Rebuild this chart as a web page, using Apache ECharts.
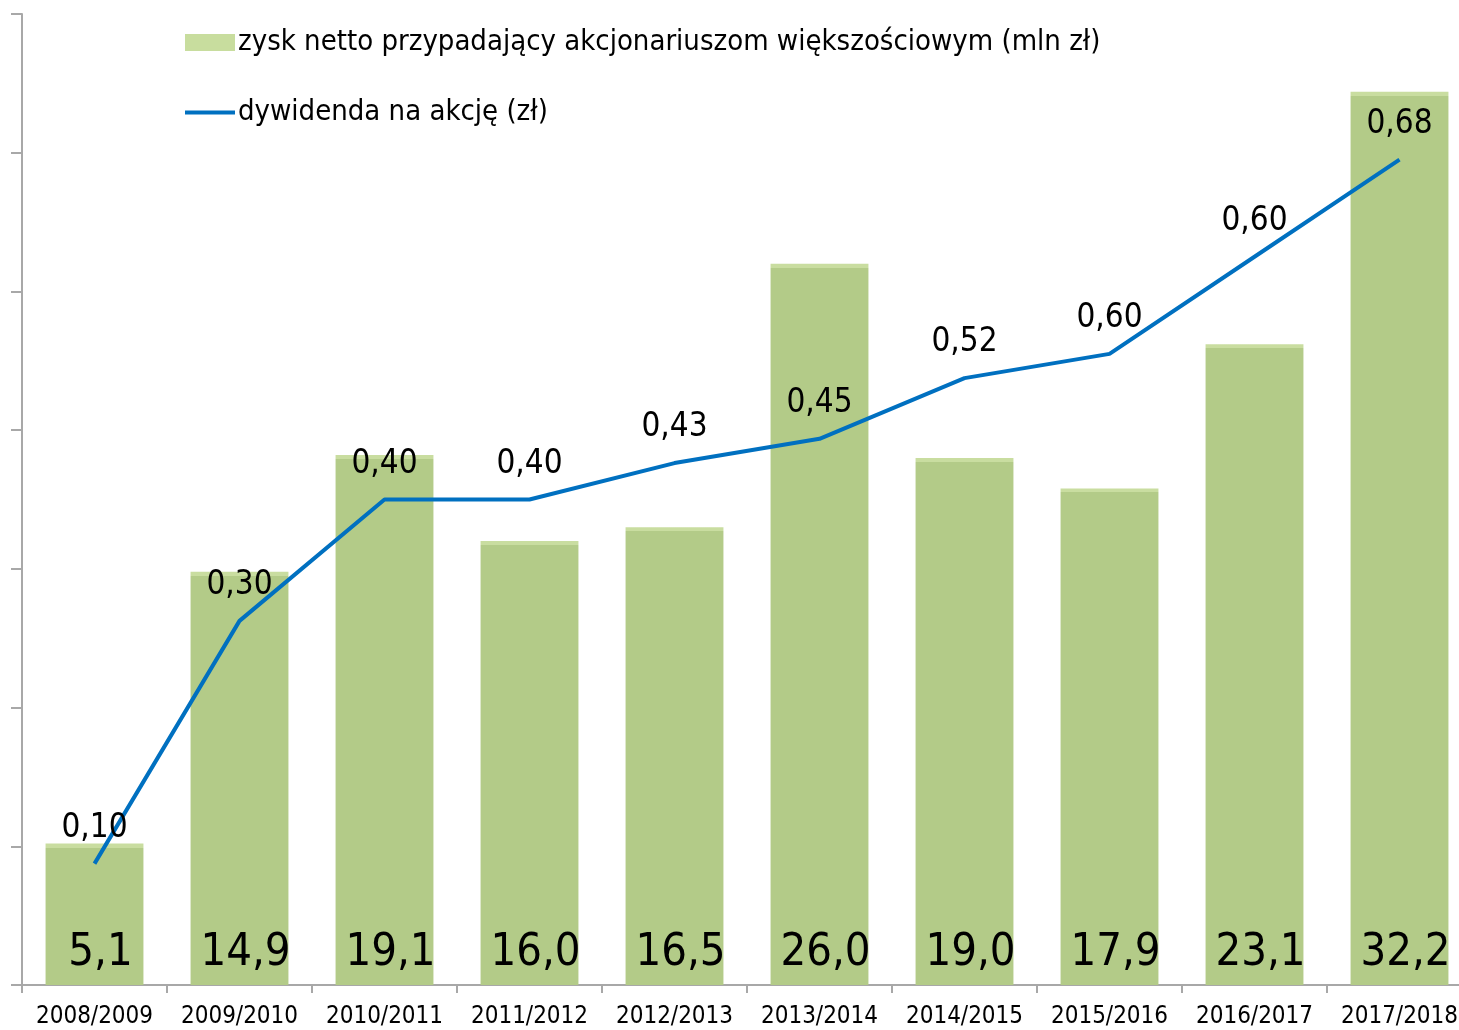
<!DOCTYPE html>
<html><head><meta charset="utf-8">
<script src="https://cdn.jsdelivr.net/npm/echarts@6/dist/echarts.min.js"></script>
<style>html,body{margin:0;padding:0;overflow:hidden;background:#fff}#c{width:1474px;height:1030px}</style>
</head><body><div id="c"></div>
<script>
var categories = ['2008/2009','2009/2010','2010/2011','2011/2012','2012/2013','2013/2014','2014/2015','2015/2016','2016/2017','2017/2018'];
var profit = [5.1, 14.9, 19.1, 16.0, 16.5, 26.0, 19.0, 17.9, 23.1, 32.2];
var dividend = [0.10, 0.30, 0.40, 0.40, 0.43, 0.45, 0.50, 0.52, 0.60, 0.68];
var dividendLabels = ['0,10','0,30','0,40','0,40','0,43','0,45','0,52','0,60','0,60','0,68'];
var profitName = 'zysk netto przypadający akcjonariuszom większościowym (mln zł)';
var dividendName = 'dywidenda na akcję (zł)';

var FONT = '"DejaVu Sans Condensed", "DejaVu Sans", sans-serif';
var BAR = '#B3CB88', BAR_TOP = '#C9DDA0', LINE = '#0070C0';
var chart = echarts.init(document.getElementById('c'));
var pxPerUnit = 970 / 35;
var barData = profit.map(function (v) {
  var f = Math.min(0.5, 4 / (v * pxPerUnit));
  return {
    value: v,
    itemStyle: { color: { type: 'linear', x: 0, y: 0, x2: 0, y2: 1, colorStops: [
      { offset: 0, color: BAR_TOP }, { offset: f, color: BAR_TOP },
      { offset: f, color: BAR }, { offset: 1, color: BAR }] } }
  };
});
chart.setOption({
  animation: false,
  textStyle: { fontFamily: FONT },
  legend: {
    orient: 'vertical', left: 183, top: 28, padding: 0, itemGap: 41, itemWidth: 50, itemHeight: 17,
    textStyle: { fontFamily: FONT, fontSize: 29, color: '#000', padding: [0, 0, 0, -2] },
    data: [
      { name: profitName, icon: 'rect', itemStyle: { color: '#C8DD9E' } },
      { name: dividendName, itemStyle: { color: 'rgba(0,0,0,0)', borderWidth: 0 },
        lineStyle: { color: LINE, width: 4 } }
    ]
  },
  grid: { left: 22, right: 2, top: 14, bottom: 45 },
  xAxis: {
    type: 'category', data: categories,
    axisLine: { lineStyle: { color: '#A8A8A8', width: 2 } },
    axisTick: { show: true, length: 8, lineStyle: { color: '#A8A8A8', width: 2 } },
    axisLabel: { interval: 0, fontFamily: FONT, fontSize: 24, color: '#000', margin: 20 }
  },
  yAxis: [
    { type: 'value', min: 0, max: 35, interval: 5,
      axisLine: { show: true, lineStyle: { color: '#A8A8A8', width: 2 } },
      axisTick: { show: true, length: 11, lineStyle: { color: '#A8A8A8', width: 2 } },
      axisLabel: { show: false }, splitLine: { show: false } },
    { type: 'value', min: 0, max: 0.8, show: false, splitLine: { show: false } }
  ],
  series: [
    { name: profitName, type: 'bar', data: barData, barCategoryGap: '32.5%',
      itemStyle: { color: BAR },
      label: { show: true, position: 'insideBottom', distance: 9, offset: [6, 0],
        fontFamily: FONT, fontSize: 45, color: '#000',
        formatter: function (p) { return p.value.toFixed(1).replace('.', ','); } } },
    { name: dividendName, type: 'line', yAxisIndex: 1, data: dividend,
      symbol: 'circle', symbolSize: 0, showSymbol: true,
      lineStyle: { color: LINE, width: 4 }, itemStyle: { color: LINE },
      label: { show: true, position: 'top', distance: 19, fontFamily: FONT, fontSize: 33, color: '#000',
        formatter: function (p) { return dividendLabels[p.dataIndex]; } } }
  ]
});
</script></body></html>
